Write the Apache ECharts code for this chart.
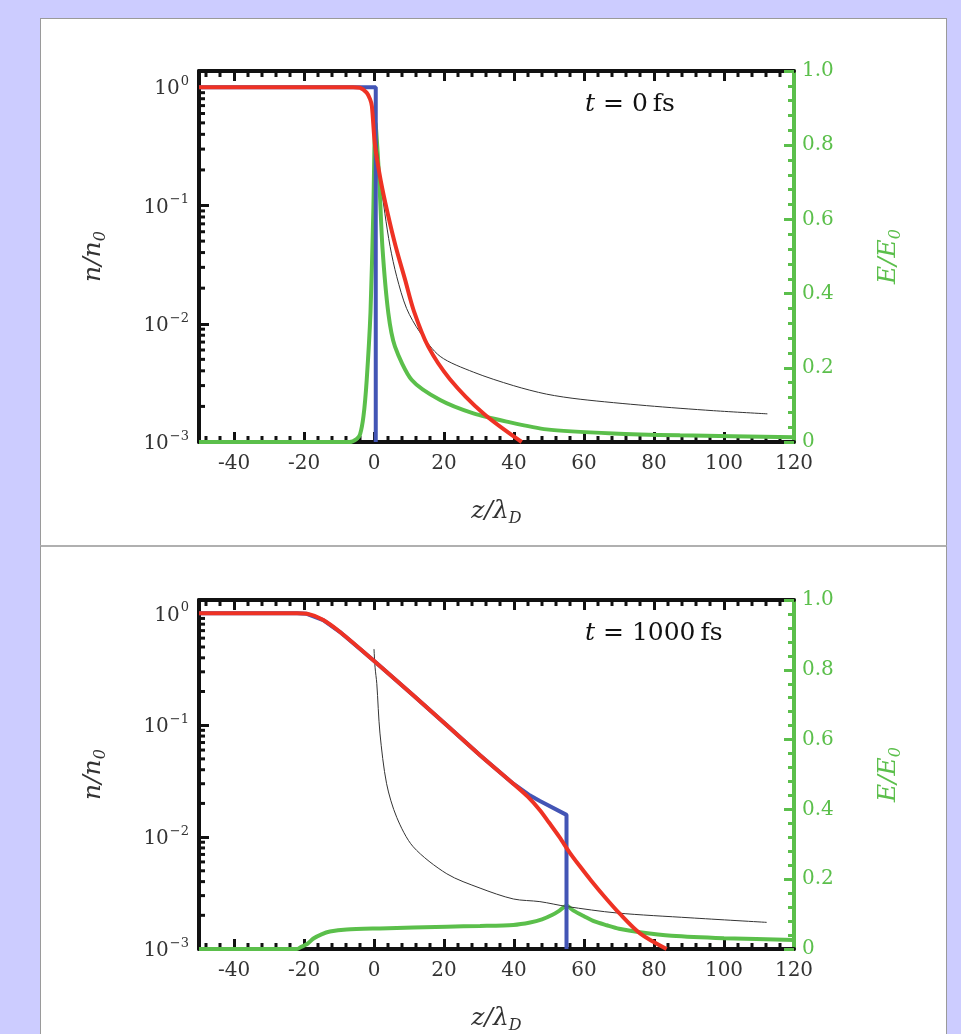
<!DOCTYPE html>
<html><head><meta charset="utf-8">
<script src="https://cdn.jsdelivr.net/npm/echarts@6/dist/echarts.min.js"></script>
<style>
html,body{margin:0;padding:0;background:#ccccff;}
#wrap{position:relative;width:961px;height:1034px;overflow:hidden;}
.panel{position:absolute;background:#fff;border:1px solid #9a9a9a;box-sizing:border-box;}
#chart{position:absolute;left:0;top:0;width:961px;height:1034px;}
</style></head><body>
<div id="wrap">
<div class="panel" style="left:40px;top:18px;width:907px;height:528px;"></div>
<div class="panel" style="left:40px;top:545px;width:907px;height:520px;border-top:2px solid #b0b0b0"></div>
<div id="chart"></div>
</div>
<script>
// ---------- data ----------
const xMajorTicks = [-40, -20, 0, 20, 40, 60, 80, 100, 120];
const xMinorTicks = [-48,-44,-36,-32,-28,-24,-16,-12,-8,-4,4,8,12,16,24,28,32,36,44,48,52,56,64,68,72,76,84,88,92,96,104,108,112,116];
const yMajorTicks = [0.001, 0.01, 0.1, 1];
const yMinorTicks = [0.002,0.003,0.004,0.005,0.006,0.007,0.008,0.009,0.02,0.03,0.04,0.05,0.06,0.07,0.08,0.09,0.2,0.3,0.4,0.5,0.6,0.7,0.8,0.9];
const annotations = ['0', '1000'];

// t = 0 fs
const blueTopZ = [-50, 0.5, 0.5];
const blueTopN = [1, 1, 0.001];
const redTopZ = [-50, -6, -4, -2.1, -1.1, -0.6, 0.3, 1.9, 3.9, 6.2, 8.9, 11.4, 15.5, 21.7, 31.2, 42.2];
const redTopN = [1, 1, 0.99, 0.9, 0.79, 0.69, 0.32, 0.164, 0.086, 0.045, 0.0235, 0.0128, 0.0064, 0.0034, 0.00175, 0.001];
const blackTopZ = [0.4, 1.5, 3.1, 4.6, 6.5, 9.3, 13.1, 18.9, 28.4, 39.8, 49.3, 58.9, 77.9, 97, 112.4];
const blackTopN = [0.5, 0.2, 0.086, 0.045, 0.025, 0.0135, 0.0085, 0.0053, 0.0039, 0.0030, 0.00254, 0.0023, 0.00203, 0.00184, 0.00173];
const greenTopZ = [-50, -7, -5, -4, -3, -2.1, -1, -0.2, 0.4, 1.5, 2.4, 4.1, 6, 10.8, 18.9, 28.4, 37.9, 49.3, 68.4, 87.4, 120];
const greenTopE = [0, 0, 0.008, 0.02, 0.07, 0.165, 0.35, 0.62, 0.86, 0.706, 0.526, 0.347, 0.257, 0.167, 0.113, 0.077, 0.055, 0.034, 0.023, 0.018, 0.013];

// t = 1000 fs
const redBotZ = [-50, -22, -19.2, -14.5, -9.7, -0.2, 11.2, 20.8, 30.3, 39.8, 44, 47.4, 50, 53, 56, 59, 62, 66, 70, 76, 83.6];
const redBotN = [1, 1, 0.99, 0.87, 0.68, 0.38, 0.185, 0.1, 0.054, 0.030, 0.0229, 0.0174, 0.0135, 0.0100, 0.0072, 0.0054, 0.0041, 0.0029, 0.0021, 0.00138, 0.001];
const blueBotZ = [-50, -22, -19.2, -14.5, -9.7, -0.2, 11.2, 20.8, 30.3, 39.8, 44.6, 47.4, 55, 55];
const blueBotN = [1, 1, 0.99, 0.87, 0.68, 0.38, 0.185, 0.1, 0.054, 0.030, 0.0235, 0.021, 0.0158, 0.001];
const blackBotZ = [0, 0.3, 0.8, 1.7, 3.6, 6.5, 11.2, 20.8, 30.3, 39.8, 47.4, 55, 69.3, 90.3, 112.2];
const blackBotN = [0.48, 0.33, 0.235, 0.085, 0.030, 0.015, 0.0082, 0.0047, 0.0035, 0.0028, 0.00265, 0.0024, 0.0021, 0.0019, 0.00173];
const greenBotZ = [-50, -22, -21, -19, -17.3, -15, -12.6, -7.8, 1.7, 20.8, 30.3, 39.8, 44.6, 48, 51, 53, 55, 57, 60, 63, 66.5, 70, 76, 85, 100, 120];
const greenBotE = [0, 0, 0.005, 0.015, 0.03, 0.042, 0.05, 0.056, 0.059, 0.064, 0.066, 0.069, 0.076, 0.085, 0.098, 0.11, 0.124, 0.11, 0.094, 0.079, 0.068, 0.058, 0.048, 0.038, 0.031, 0.026];

// axis ranges
const zRange = [-50, 120];
const nRangeTop = [0.001, 1.373];
const nRangeBot = [0.001, 1.315];
const eRange = [0, 1];

// ---------- styles ----------
const RED = '#ee3224', BLUE = '#4355b5', GREEN = '#5bbf4b', BLACK = '#111', TXT = '#333';
const SERIF = '"DejaVu Serif", "Liberation Serif", serif';
const zip = (a, b) => a.map((v, i) => [v, b[i]]);

function supLabel(v) {
  const l = Math.log10(v), e = Math.round(l);
  if (Math.abs(l - e) > 1e-6) return '';
  return '{b|10}{s|' + (e < 0 ? '\u2212' + (-e) : e) + '}';
}

const grids = [
  { left: 199, top: 71, width: 595, height: 371, nRange: nRangeTop },
  { left: 199, top: 600, width: 595, height: 349, nRange: nRangeBot }
];

const option = { animation: false, grid: [], xAxis: [], yAxis: [], series: [], graphic: [] };

grids.forEach((g, gi) => {
  option.grid.push({ left: g.left, top: g.top, width: g.width, height: g.height, outerBoundsMode: 'none', containLabel: false });
  // bottom x axis
  option.xAxis.push({
    type: 'value', gridIndex: gi, position: 'bottom', min: zRange[0], max: zRange[1],
    name: '{i|z/\u03bb}{sub|D}', nameLocation: 'middle', nameGap: 57,
    nameTextStyle: { rich: {
      i: { fontFamily: SERIF, fontStyle: 'italic', fontSize: 25, color: TXT, verticalAlign: 'top' },
      sub: { fontFamily: SERIF, fontStyle: 'italic', fontSize: 16, color: TXT, verticalAlign: 'top', padding: [12, 0, 0, 0] } } },
    splitLine: { show: false },
    axisLine: { show: true, onZero: false, lineStyle: { color: BLACK, width: 4 } },
    axisTick: { show: true, inside: true, length: 10, customValues: xMajorTicks.filter(v => v < 120), lineStyle: { color: BLACK, width: 3 } },
    axisLabel: { show: true, customValues: xMajorTicks, margin: 12, color: TXT, fontFamily: SERIF, fontSize: 20, formatter: v => String(v) }
  });
  // top x axis
  option.xAxis.push({
    type: 'value', gridIndex: gi, position: 'top', min: zRange[0], max: zRange[1],
    splitLine: { show: false },
    axisLine: { show: true, onZero: false, lineStyle: { color: BLACK, width: 4 } },
    axisTick: { show: true, inside: true, length: 10, customValues: xMajorTicks.filter(v => v < 120), lineStyle: { color: BLACK, width: 3 } },
    axisLabel: { show: false }
  });
  // left log axis
  option.yAxis.push({
    type: 'log', logBase: 10, gridIndex: gi, position: 'left', min: g.nRange[0], max: g.nRange[1],
    name: '{i|n/n}{sub|0}', nameLocation: 'middle', nameRotate: 90, nameGap: 90,
    nameTextStyle: { rich: {
      i: { fontFamily: SERIF, fontStyle: 'italic', fontSize: 25, color: TXT, verticalAlign: 'top' },
      sub: { fontFamily: SERIF, fontStyle: 'italic', fontSize: 16, color: TXT, verticalAlign: 'top', padding: [12, 0, 0, 0] } } },
    splitLine: { show: false },
    axisLine: { show: true, onZero: false, lineStyle: { color: BLACK, width: 4 } },
    axisTick: { show: true, inside: true, length: 10, lineStyle: { color: BLACK, width: 3 } },
    axisLabel: { show: true, margin: 10, formatter: supLabel, showMaxLabel: false,
      rich: { b: { fontFamily: SERIF, fontSize: 20, color: TXT, verticalAlign: 'bottom' },
              s: { fontFamily: SERIF, fontSize: 13, color: TXT, verticalAlign: 'bottom', padding: [0, 0, 11, 1] } } }
  });
  // right E axis
  option.yAxis.push({
    type: 'value', gridIndex: gi, position: 'right', min: eRange[0], max: eRange[1], interval: 0.2,
    name: '{i|E/E}{sub|0}', nameLocation: 'middle', nameRotate: 90, nameGap: 82,
    nameTextStyle: { rich: {
      i: { fontFamily: SERIF, fontStyle: 'italic', fontSize: 25, color: GREEN, verticalAlign: 'top' },
      sub: { fontFamily: SERIF, fontStyle: 'italic', fontSize: 16, color: GREEN, verticalAlign: 'top', padding: [12, 0, 0, 0] } } },
    splitLine: { show: false },
    axisLine: { show: true, onZero: false, lineStyle: { color: GREEN, width: 4 } },
    axisTick: { show: true, inside: true, length: 10, lineStyle: { color: GREEN, width: 3 } },
    minorTick: { show: true, splitNumber: 5, length: 6, lineStyle: { color: GREEN, width: 3 } },
    axisLabel: { show: true, margin: 8, color: GREEN, fontFamily: SERIF, fontSize: 20,
      formatter: v => (v === 0 ? '0' : v.toFixed(1)) }
  });

  const xb = gi * 2, yl = gi * 2, yr = gi * 2 + 1;
  // minor ticks on x (top and bottom) via the axes' own scales
  option.series.push({
    type: 'custom', xAxisIndex: xb, yAxisIndex: yl, silent: true, z: 1, clip: false,
    data: xMinorTicks.map(v => [v, 1]),
    renderItem: (params, api) => {
      const v = api.value(0);
      const pb = api.coord([v, g.nRange[0]]);
      const pt = api.coord([v, g.nRange[1]]);
      const st = { stroke: BLACK, lineWidth: 3 };
      return { type: 'group', children: [
        { type: 'line', shape: { x1: pb[0], y1: pb[1], x2: pb[0], y2: pb[1] - 6 }, style: st },
        { type: 'line', shape: { x1: pt[0], y1: pt[1], x2: pt[0], y2: pt[1] + 6 }, style: st } ] };
    }
  });
  // log minor ticks on left axis
  option.series.push({
    type: 'custom', xAxisIndex: xb, yAxisIndex: yl, silent: true, z: 1, clip: false,
    data: yMinorTicks.map(v => [zRange[0], v]),
    renderItem: (params, api) => {
      const p = api.coord([zRange[0], api.value(1)]);
      return { type: 'line', shape: { x1: p[0], y1: p[1], x2: p[0] + 6, y2: p[1] }, style: { stroke: BLACK, lineWidth: 3 } };
    }
  });

  const sets = gi === 0
    ? { g: zip(greenTopZ, greenTopE), k: zip(blackTopZ, blackTopN), b: zip(blueTopZ, blueTopN), r: zip(redTopZ, redTopN) }
    : { g: zip(greenBotZ, greenBotE), k: zip(blackBotZ, blackBotN), b: zip(blueBotZ, blueBotN), r: zip(redBotZ, redBotN) };
  const common = { type: 'line', showSymbol: false, silent: true, clip: true, xAxisIndex: xb };
  option.series.push(Object.assign({}, common, { name: 'E', yAxisIndex: yr, data: sets.g, smooth: 0.25, lineStyle: { color: GREEN, width: 4 } }));
  option.series.push(Object.assign({}, common, { name: 'n ref', yAxisIndex: yl, data: sets.k, smooth: 0.3, lineStyle: { color: '#333', width: 1 } }));
  option.series.push(Object.assign({}, common, { name: 'n ion', yAxisIndex: yl, data: sets.b, lineStyle: { color: BLUE, width: 4 } }));
  option.series.push(Object.assign({}, common, { name: 'n e', yAxisIndex: yl, data: sets.r, smooth: 0.3, lineStyle: { color: RED, width: 4 } }));

  option.graphic.push({
    type: 'text', left: 585, top: g.top + 21,
    style: { text: '{i|t} = ' + annotations[gi] + '\u2009fs', fontFamily: SERIF, fontSize: 25, fill: '#111',
      rich: { i: { fontFamily: SERIF, fontStyle: 'italic', fontSize: 25, fill: '#111' } } }
  });
});

const chart = echarts.init(document.getElementById('chart'), null, { renderer: 'canvas' });
chart.setOption(option);
</script>
</body></html>
